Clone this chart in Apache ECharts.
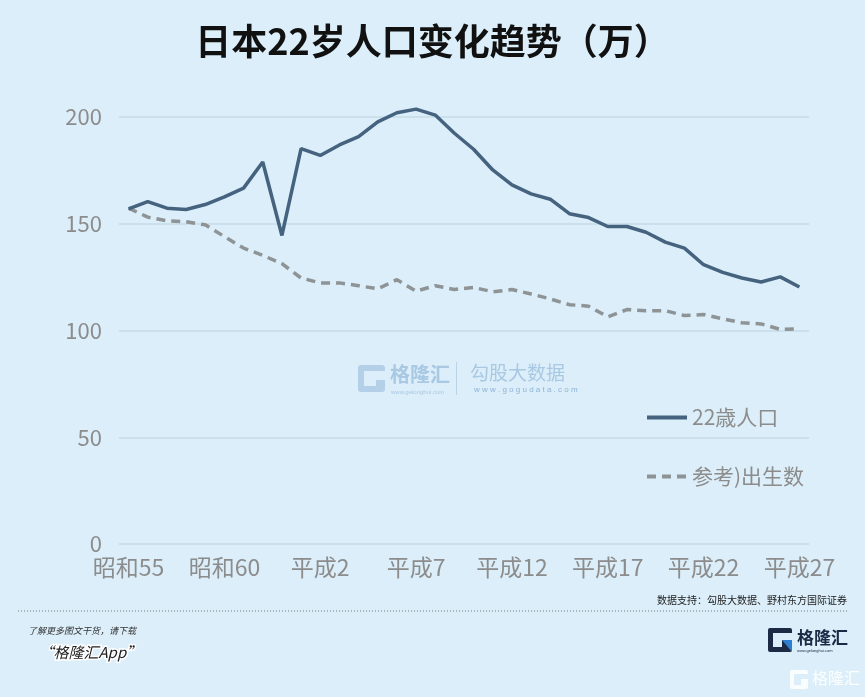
<!DOCTYPE html>
<html>
<head>
<meta charset="utf-8">
<script src="https://cdn.jsdelivr.net/npm/echarts@6/dist/echarts.min.js"></script>
<style>
  html, body { margin: 0; padding: 0; background: #dbeef9; }
  #chart { width: 865px; height: 697px; }
</style>
</head>
<body>
<div id="chart"></div>
<script>
// years 1980 (昭和55) .. 2015 (平成27)
const years = [
  '昭和55', '昭和56', '昭和57', '昭和58', '昭和59', '昭和60', '昭和61', '昭和62', '昭和63',
  '平成元', '平成2', '平成3', '平成4', '平成5', '平成6', '平成7', '平成8', '平成9',
  '平成10', '平成11', '平成12', '平成13', '平成14', '平成15', '平成16', '平成17', '平成18',
  '平成19', '平成20', '平成21', '平成22', '平成23', '平成24', '平成25', '平成26', '平成27'
];

// 22-year-old population (10k)
const age22 = [
  157, 160.4, 157.3, 156.7, 159, 162.6, 166.7, 178.9, 144.5, 185.2, 182, 186.9,
  190.8, 197.7, 202, 203.7, 200.9, 192.4, 184.9, 175.2, 168.2, 164, 161.5, 154.7,
  152.9, 148.7, 148.7, 146, 141.4, 138.6, 130.8, 127.2, 124.6, 122.7, 125.1, 120.4
];

// reference: births 22 years earlier (10k)
const births = [
  157.3, 153.1, 151.4, 150.9, 149.5, 144, 138.6, 135.2, 131.3, 124.6, 122.3, 122.3,
  121, 119.5, 123.8, 118.4, 121, 119.2, 120.2, 118.1, 119.2, 117.1, 114.8, 112.1,
  111.4, 106.4, 109.8, 109.3, 109.3, 107, 107.5, 105.5, 103.6, 103.1, 100.5, 100.8
];

const seriesNames = ['22歳人口', '参考)出生数'];

const chart = echarts.init(document.getElementById('chart'));

const cjk = '"Noto Sans CJK SC", "Noto Sans", sans-serif';
const axisGray = '#8c8c8c';

chart.setOption({
  backgroundColor: '#dbeef9',
  animation: false,
  textStyle: { fontFamily: cjk },
  title: {
    text: '日本22岁人口变化趋势（万）',
    left: 'center',
    top: 18,
    textStyle: { fontSize: 36, fontWeight: 'bold', color: '#111', fontFamily: cjk }
  },
  grid: { left: 119, right: 56, top: 117, bottom: 153 },
  legend: {
    orient: 'vertical',
    left: 640,
    top: 402,
    itemWidth: 40,
    itemHeight: 14,
    itemGap: 38,
    itemStyle: { opacity: 0 },
    lineStyle: { width: 4 },
    textStyle: { fontSize: 21, color: axisGray },
    data: seriesNames
  },
  xAxis: {
    type: 'category',
    data: years,
    boundaryGap: true,
    axisLine: { show: false },
    axisTick: { show: false },
    axisLabel: { interval: 4, fontSize: 23, color: axisGray, margin: 12 }
  },
  yAxis: {
    type: 'value',
    min: 0,
    max: 200,
    interval: 50,
    axisLine: { show: false },
    axisTick: { show: false },
    axisLabel: { fontSize: 22, color: axisGray, margin: 17 },
    splitLine: { lineStyle: { color: '#c6dbe6', width: 1.5 } }
  },
  series: [
    {
      name: seriesNames[0],
      type: 'line',
      data: age22,
      symbol: 'none',
      clip: false,
      z: 3,
      lineStyle: { color: '#45637f', width: 3.5 },
      itemStyle: { color: '#45637f' }
    },
    {
      name: seriesNames[1],
      type: 'line',
      data: births,
      symbol: 'none',
      clip: false,
      z: 2,
      lineStyle: { color: '#8e9396', width: 3.5, type: [9, 6] },
      itemStyle: { color: '#8e9396' }
    }
  ],
  graphic: [
    // center watermark
    {
      type: 'group', left: 358, top: 362, silent: true,
      children: [
        { type: 'rect', shape: { x: 2, y: 3, width: 27, height: 27, r: 3 }, style: { fill: '#b3d0e8' } },
        { type: 'rect', shape: { x: 8, y: 9, width: 21, height: 9 }, style: { fill: '#dbeef9' } },
        { type: 'rect', shape: { x: 8, y: 18, width: 12, height: 6 }, style: { fill: '#dbeef9' } },
        { type: 'text', x: 34, y: 2, style: { text: '格隆汇', fontSize: 20, fill: '#a9c8e4', fontFamily: cjk, fontWeight: 'bold' } },
        { type: 'text', x: 35, y: 27, style: { text: 'www.gelonghui.com', fontSize: 6, fill: '#a9c8e4' } },
        { type: 'rect', shape: { x: 100, y: 0, width: 1, height: 33 }, style: { fill: '#b9d3e8' } },
        { type: 'text', x: 114, y: 1, style: { text: '勾股大数据', fontSize: 19, fill: '#a9c8e4', fontFamily: cjk } },
        { type: 'text', x: 118, y: 24, style: { text: 'w w w . g o g u d a t a . c o m', fontSize: 8, fill: '#8fb2d6' } }
      ]
    },
    // source note
    {
      type: 'text', right: 18, top: 595,
      style: { text: '数据支持：勾股大数据、野村东方国际证券', fontSize: 10, fill: '#222', fontFamily: cjk }
    },
    // dotted separator
    {
      type: 'line', shape: { x1: 18, y1: 611, x2: 848, y2: 611 },
      style: { stroke: '#777', lineWidth: 1, lineDash: [1, 2] }
    },
    // footer
    {
      type: 'text', left: 28, top: 626,
      style: { text: '了解更多图文干货，请下载', fontSize: 9, fontStyle: 'italic', fill: '#333', fontFamily: cjk }
    },
    {
      type: 'text', left: 37, top: 643,
      style: {
        text: '“格隆汇App”', fontSize: 15, fontStyle: 'italic', fill: '#222', fontFamily: cjk,
        stroke: '#fff', lineWidth: 3
      }
    },
    // logo bottom right
    {
      type: 'group', left: 768, top: 628,
      children: [
        { type: 'rect', shape: { x: 0, y: 1, width: 24, height: 24, r: 2 }, style: { fill: '#1d2a45' } },
        { type: 'rect', shape: { x: 5, y: 6, width: 19, height: 7 }, style: { fill: '#dbeef9' } },
        { type: 'rect', shape: { x: 5, y: 13, width: 9, height: 7 }, style: { fill: '#dbeef9' } },
        { type: 'polygon', shape: { points: [[14, 13], [24, 13], [24, 25]] }, style: { fill: '#2e7fd0' } },
        { type: 'text', x: 29, y: 2, style: { text: '格隆汇', fontSize: 17, fontWeight: 'bold', fill: '#1d2a45', fontFamily: cjk } },
        { type: 'text', x: 29, y: 22, style: { text: 'www.gelonghui.com', fontSize: 4, fill: '#1d2a45' } }
      ]
    },
    {
      type: 'group', left: 790, top: 670, silent: true,
      children: [
        { type: 'rect', shape: { x: 0, y: 1, width: 18, height: 19, r: 2 }, style: { fill: 'rgba(255,255,255,0.85)' } },
        { type: 'rect', shape: { x: 4, y: 5, width: 14, height: 5 }, style: { fill: '#dbeef9' } },
        { type: 'rect', shape: { x: 4, y: 10, width: 7, height: 6 }, style: { fill: '#dbeef9' } },
        { type: 'text', x: 22, y: 1, style: { text: '格隆汇', fontSize: 16, fill: 'rgba(255,255,255,0.9)', fontFamily: cjk } }
      ]
    }
  ]
});
</script>
</body>
</html>
